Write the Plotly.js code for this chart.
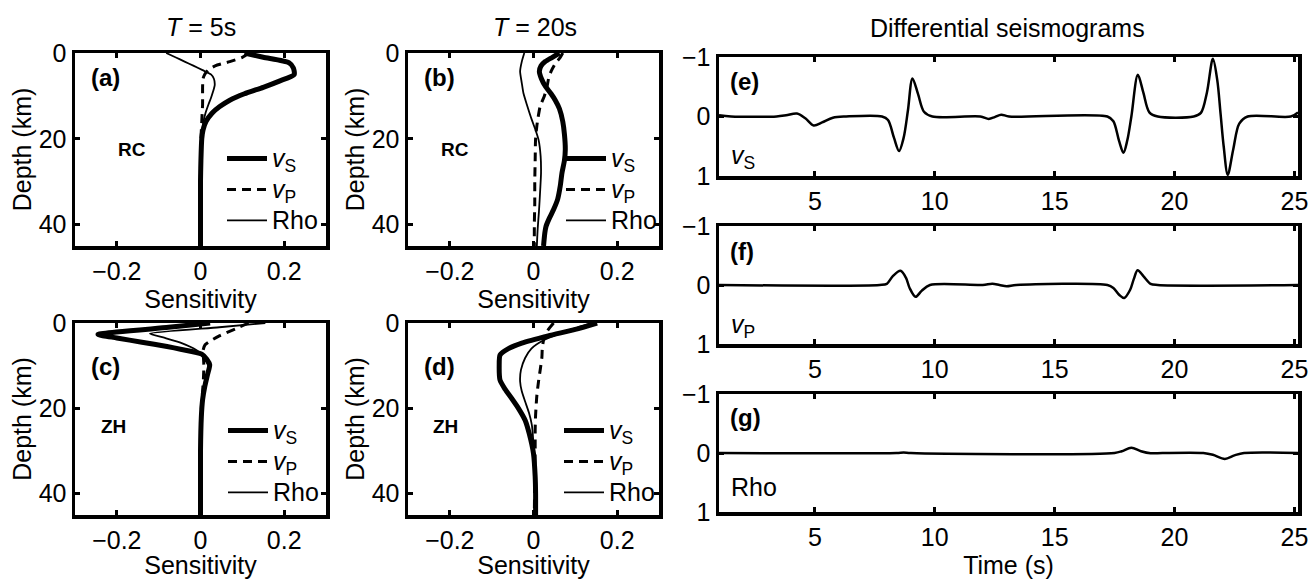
<!DOCTYPE html>
<html>
<head>
<meta charset="utf-8">
<script src="https://cdn.plot.ly/plotly-3.0.1.min.js"></script>
<style>
  html, body { margin: 0; padding: 0; background: #fff; }
  #fig { width: 1309px; height: 579px; }
</style>
</head>
<body>
<div id="fig"></div>
<script>
// ---- Sensitivity kernels (depth in km, sensitivity) ----
// (a) RC, T = 5 s
const aVsDepth  = [0, 1, 2.3, 3.5, 5, 6.5, 8, 9.5, 11, 12.5, 14, 16, 18, 20, 25, 30, 45];
const aVsVal    = [0.105, 0.15, 0.212, 0.222, 0.224, 0.19, 0.15, 0.105, 0.07, 0.046, 0.028, 0.013, 0.006, 0.003, 0.001, 0, 0];
const aVpDepth  = [0, 1, 2, 3, 4, 5, 6, 8, 10, 12, 14, 16, 18, 20, 25, 45];
const aVpVal    = [0.115, 0.1, 0.07, 0.035, 0.018, 0.01, 0.006, 0.005, 0.005, 0.005, 0.004, 0.003, 0.002, 0.001, 0, 0];
const aRhoDepth = [0, 1, 2, 3, 4, 5, 6, 7.5, 9, 10.5, 12, 14, 16, 18, 20, 25, 45];
const aRhoVal   = [-0.082, -0.06, -0.038, -0.016, 0.005, 0.025, 0.032, 0.034, 0.03, 0.025, 0.019, 0.012, 0.007, 0.004, 0.002, 0.001, 0];

// (b) RC, T = 20 s
const bVsDepth  = [0, 1, 2, 3, 4.3, 6, 7.7, 9.5, 11, 13, 16, 19, 22.5, 25, 28, 31, 34, 36.5, 38.5, 40.4, 42, 45];
const bVsVal    = [0.062, 0.045, 0.028, 0.018, 0.014, 0.019, 0.028, 0.042, 0.052, 0.062, 0.07, 0.074, 0.076, 0.074, 0.068, 0.064, 0.058, 0.048, 0.038, 0.03, 0.027, 0.024];
const bVpDepth  = [0, 1, 2.5, 4.3, 6, 8, 10, 12.4, 15, 17, 20, 25, 30, 35, 40, 45];
const bVpVal    = [0.07, 0.064, 0.052, 0.042, 0.036, 0.032, 0.026, 0.016, 0.011, 0.008, 0.005, 0.004, 0.003, 0.003, 0.002, 0.002];
const bRhoDepth = [0, 2, 4.3, 7, 9.4, 12, 15.6, 18, 20.2, 24, 28, 32, 37, 41, 45];
const bRhoVal   = [-0.022, -0.028, -0.032, -0.028, -0.024, -0.016, -0.004, 0.005, 0.012, 0.017, 0.018, 0.016, 0.013, 0.01, 0.008];

// (c) ZH, T = 5 s
const cVsDepth  = [0, 1, 2.7, 3.5, 4.5, 5.5, 6.2, 7.3, 8.5, 9.8, 12, 15, 18, 22, 30, 45];
const cVsVal    = [0.023, -0.076, -0.245, -0.2, -0.14, -0.08, -0.045, 0.003, 0.015, 0.022, 0.017, 0.01, 0.005, 0.002, 0, 0];
const cVpDepth  = [0, 1.4, 3, 5.1, 6.5, 8, 10, 13, 16, 18, 20, 30, 45];
const cVpVal    = [0.115, 0.083, 0.045, 0.011, 0.006, 0.007, 0.008, 0.007, 0.005, 0.003, 0.002, 0, 0];
const cRhoDepth = [0, 1, 2.5, 3.5, 4.7, 5.7, 6.7, 8.5, 10.2, 13, 15.7, 20, 30, 45];
const cRhoVal   = [0.155, 0.045, -0.121, -0.085, -0.045, -0.022, -0.005, 0.01, 0.019, 0.012, 0.006, 0.002, 0, 0];

// (d) ZH, T = 20 s
const dVsDepth  = [0, 1.5, 3, 4.7, 6, 7.5, 10, 13.4, 15.5, 17.7, 20, 22.8, 26, 30.6, 36, 40, 45];
const dVsVal    = [0.152, 0.1, 0.035, -0.028, -0.06, -0.08, -0.082, -0.08, -0.068, -0.052, -0.036, -0.02, -0.01, 0, 0.004, 0.005, 0.005];
const dVpDepth  = [0, 2, 4, 6, 8.1, 11, 13.7, 17, 21.6, 25, 29.4, 35, 45];
const dVpVal    = [0.048, 0.032, 0.024, 0.021, 0.02, 0.016, 0.012, 0.008, 0.005, 0.004, 0.004, 0.003, 0.002];
const dRhoDepth = [0, 2, 4, 6, 8.2, 11, 13.7, 16, 18.4, 21, 23.9, 27, 29.4, 35, 45];
const dRhoVal   = [0.14, 0.075, 0.025, -0.005, -0.02, -0.03, -0.032, -0.028, -0.02, -0.011, -0.004, -0.001, 0, 0.003, 0.004];

// ---- Differential seismograms (time in s, normalised amplitude) ----
const eTime = [1.0, 1.5, 3.4, 3.8, 4.25, 4.6, 4.95, 5.3, 5.75, 6.3, 7.8, 8.05, 8.3, 8.51, 8.7, 8.88, 9.07, 9.3, 9.55, 9.9,
               11.9, 12.25, 12.5, 12.77, 13.1, 17.2, 17.45, 17.68, 17.87, 18.03, 18.2, 18.47, 18.7, 18.95, 19.3,
               20.8, 21.1, 21.35, 21.6, 21.78, 21.92, 22.05, 22.22, 22.45, 22.7, 23.05, 24.85, 25.15];
const eVs   = [-0.02, 0, 0, -0.02, -0.05, 0.03, 0.15, 0.1, 0.02, 0, 0, 0.06, 0.36, 0.58, 0.36, -0.1, -0.64, -0.38, -0.08, 0,
               0, 0.04, 0.01, -0.03, 0, 0, 0.08, 0.4, 0.61, 0.4, 0, -0.7, -0.4, -0.07, 0,
               0, -0.06, -0.4, -0.97, -0.62, -0.05, 0.5, 0.98, 0.55, 0.12, 0, 0, -0.07];
const fTime = [1, 7.7, 8.0, 8.25, 8.57, 8.8, 8.95, 9.2, 9.45, 9.8, 12.0, 12.4, 12.7, 13.0, 13.4,
               17.2, 17.45, 17.7, 17.9, 18.15, 18.3, 18.46, 18.7, 19.0, 19.3, 25.15];
const fVp   = [0, 0, -0.02, -0.15, -0.24, -0.12, 0.05, 0.2, 0.1, 0, 0, -0.02, 0, 0.02, 0,
               0, 0.05, 0.17, 0.22, 0.08, -0.1, -0.25, -0.15, -0.02, 0, 0];
const gTime = [1, 8.4, 8.7, 9.0, 17.5, 17.8, 18.2, 18.6, 19.0, 19.5, 21.2, 21.6, 22.1, 22.5, 22.9, 25.15];
const gRho  = [0, 0, -0.01, 0, 0, -0.03, -0.09, -0.03, 0.005, 0, 0, 0.03, 0.1, 0.04, 0, 0];

// ---- labels ----
const kernelNames = ['<i>v</i><sub>S</sub>', '<i>v</i><sub>P</sub>', 'Rho'];
const panelTags   = ['(a)', '(b)', '(c)', '(d)', '(e)', '(f)', '(g)'];
const stationTags = ['RC', 'RC', 'ZH', 'ZH'];
const seisTags    = ['<i>v</i><sub>S</sub>', '<i>v</i><sub>P</sub>', 'Rho'];
const depthTicks  = [0, 20, 40];
const sensTicks   = [-0.2, 0, 0.2];
const timeTicks   = [5, 10, 15, 20, 25];
const ampTicks    = [-1, 0, 1];

const W = 1309, H = 579;
const FONT = 'Liberation Sans, Arial, Helvetica, sans-serif';
const px = v => v / W;
const py = v => 1 - v / H;

const styles = [
  {width: 5, dash: 'solid'},
  {width: 3, dash: '9px,6px'},
  {width: 1.8, dash: 'solid'}
];

const kernelSets = [
  [[aVsDepth, aVsVal], [aVpDepth, aVpVal], [aRhoDepth, aRhoVal]],
  [[bVsDepth, bVsVal], [bVpDepth, bVpVal], [bRhoDepth, bRhoVal]],
  [[cVsDepth, cVsVal], [cVpDepth, cVpVal], [cRhoDepth, cRhoVal]],
  [[dVsDepth, dVsVal], [dVpDepth, dVpVal], [dRhoDepth, dRhoVal]]
];
const legendIds = ['legend', 'legend2', 'legend3', 'legend4'];

const traces = [];
kernelSets.forEach((set, p) => {
  const ax = p === 0 ? '' : String(p + 1);
  set.forEach((pair, k) => {
    traces.push({
      x: pair[1], y: pair[0], type: 'scatter', mode: 'lines',
      xaxis: 'x' + ax, yaxis: 'y' + ax,
      name: '<span style="font-size:25px">' + kernelNames[k] + '</span>',
      legend: legendIds[p],
      line: {color: '#000', width: styles[k].width, dash: styles[k].dash, shape: 'spline', smoothing: 0.6},
      showlegend: true
    });
  });
});
[[eTime, eVs], [fTime, fVp], [gTime, gRho]].forEach((pair, i) => {
  const ax = String(i + 5);
  traces.push({
    x: pair[0], y: pair[1], type: 'scatter', mode: 'lines',
    xaxis: 'x' + ax, yaxis: 'y' + ax,
    line: {color: '#000', width: 2.5, shape: 'spline', smoothing: 0.9},
    showlegend: false
  });
});

const base = {
  showline: true, linewidth: 3.5, linecolor: '#000', mirror: 'ticks',
  ticks: 'inside', ticklen: 5, tickwidth: 3, tickcolor: '#000',
  showgrid: false, zeroline: false, fixedrange: true,
  tickfont: {size: 25, color: '#000', family: FONT}
};
const titleFont = {size: 25, color: '#000', family: FONT};

const layout = {
  width: W, height: H, autosize: false,
  margin: {l: 0, r: 0, t: 0, b: 0},
  paper_bgcolor: '#fff', plot_bgcolor: '#fff',
  font: {family: FONT, color: '#000'},
  showlegend: true, hovermode: false,
  annotations: []
};

// left-hand kernel panels: [x0, x1, yTop, yBottom] in px
const leftBoxes = [[75, 326, 53, 246], [408, 659, 53, 246], [75, 326, 323, 515], [408, 659, 323, 515]];
const legendLeft = [222, 561, 223, 559];
leftBoxes.forEach((b, p) => {
  const ax = p === 0 ? '' : String(p + 1);
  layout['xaxis' + ax] = Object.assign({}, base, {
    domain: [px(b[0]), px(b[1])], anchor: 'y' + ax, range: [-0.3, 0.3],
    tickvals: sensTicks, title: {text: 'Sensitivity', font: titleFont, standoff: 2}
  });
  layout['yaxis' + ax] = Object.assign({}, base, {
    domain: [py(b[3]), py(b[2])], anchor: 'x' + ax, range: [45, 0],
    tickvals: depthTicks, title: {text: 'Depth (km)', font: titleFont, standoff: 1}
  });
  layout[legendIds[p]] = {
    x: px(legendLeft[p]), y: py(b[2] + (p < 2 ? 85 : 87)), xanchor: 'left', yanchor: 'top',
    bgcolor: 'rgba(0,0,0,0)', borderwidth: 0, itemwidth: 40, tracegroupgap: 0,
    font: {size: 21.5, color: '#000', family: FONT}
  };
  layout.annotations.push({
    xref: 'x' + ax, yref: 'y' + ax, x: -0.266, y: p < 2 ? 5.8 : 10.1, xanchor: 'left', yanchor: 'middle',
    text: '<b>' + panelTags[p] + '</b>', showarrow: false, font: {size: 24, family: FONT}
  });
  layout.annotations.push({
    xref: 'x' + ax, yref: 'y' + ax, x: [-0.203, -0.227, -0.243, -0.244][p], y: p < 2 ? 22.6 : 24.3,
    xanchor: 'left', yanchor: 'middle',
    text: '<b>' + stationTags[p] + '</b>', showarrow: false, font: {size: 19, family: FONT}
  });
});

// right-hand seismogram panels
const rightBoxes = [[719, 1298, 57, 176], [719, 1298, 226, 344], [719, 1298, 394, 512]];
const tagY = [-0.58, -0.56, -0.6];
const labelY = [0.68, 0.69, 0.58];
rightBoxes.forEach((b, i) => {
  const ax = String(i + 5);
  layout['xaxis' + ax] = Object.assign({}, base, {
    domain: [px(b[0]), px(b[1])], anchor: 'y' + ax, range: [1, 25.15],
    tickvals: timeTicks,
    title: i === 2 ? {text: 'Time (s)', font: titleFont, standoff: 0} : undefined
  });
  layout['yaxis' + ax] = Object.assign({}, base, {
    domain: [py(b[3]), py(b[2])], anchor: 'x' + ax, range: [1, -1],
    tickvals: ampTicks
  });
  layout.annotations.push({
    xref: 'x' + ax, yref: 'y' + ax, x: 1.38, y: tagY[i], xanchor: 'left', yanchor: 'middle',
    text: '<b>' + panelTags[i + 4] + '</b>', showarrow: false, font: {size: 24, family: FONT}
  });
  layout.annotations.push({
    xref: 'x' + ax, yref: 'y' + ax, x: 1.4, y: labelY[i], xanchor: 'left', yanchor: 'middle',
    text: seisTags[i], showarrow: false, font: {size: 25, family: FONT}
  });
});

// column headings
layout.annotations.push(
  {xref: 'paper', yref: 'paper', x: px(201), y: py(27), xanchor: 'center', yanchor: 'middle',
   text: '<i>T</i> = 5s', showarrow: false, font: {size: 25, family: FONT}},
  {xref: 'paper', yref: 'paper', x: px(535), y: py(27), xanchor: 'center', yanchor: 'middle',
   text: '<i>T</i> = 20s', showarrow: false, font: {size: 25, family: FONT}},
  {xref: 'paper', yref: 'paper', x: px(1007), y: py(28), xanchor: 'center', yanchor: 'middle',
   text: 'Differential seismograms', showarrow: false, font: {size: 25, family: FONT}}
);

Plotly.newPlot('fig', traces, layout, {staticPlot: true, displayModeBar: false});
</script>
</body>
</html>
